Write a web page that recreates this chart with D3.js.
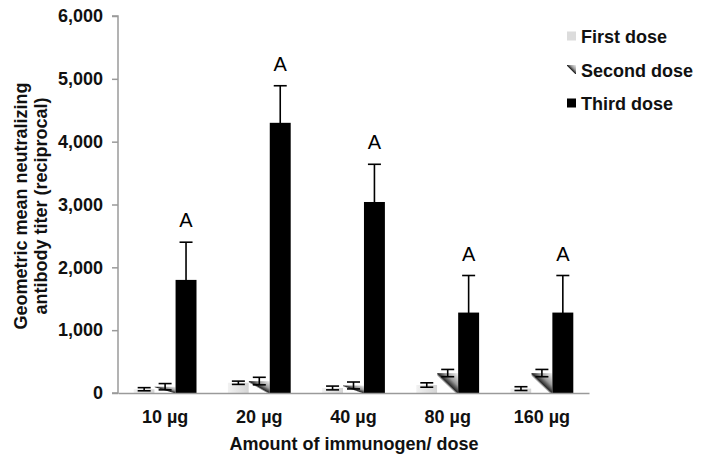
<!DOCTYPE html>
<html>
<head>
<meta charset="utf-8">
<script src="https://cdn.jsdelivr.net/npm/d3@7"></script>
<style>
  html, body { margin: 0; padding: 0; background: #fff; }
  svg { display: block; font-family: "Liberation Sans", Arial, Helvetica, sans-serif; }
</style>
</head>
<body>
<svg id="chart" width="701" height="463"></svg>
<script>
const categories = ["10 µg", "20 µg", "40 µg", "80 µg", "160 µg"];
const seriesNames = ["First dose", "Second dose", "Third dose"];
const firstDose = [60, 163, 80, 127, 70];
const firstErr = [25, 26, 30, 35, 30];
const secondDose = [100, 190, 120, 317, 317];
const secondErr = [50, 60, 55, 58, 58];
const thirdDose = [1800, 4300, 3040, 1280, 1280];
const thirdErr = [600, 590, 600, 590, 590];
const annotations = ["A", "A", "A", "A", "A"];
const yTicks = [0, 1000, 2000, 3000, 4000, 5000, 6000];

const svg = d3.select("#chart");
const defs = svg.append("defs");

const g1 = defs.append("linearGradient").attr("id", "gFirst")
  .attr("x1", 0).attr("y1", 0).attr("x2", 1).attr("y2", 0);
g1.append("stop").attr("offset", 0).attr("stop-color", "#f2f2f2");
g1.append("stop").attr("offset", 1).attr("stop-color", "#d4d4d4");

const g2 = defs.append("linearGradient").attr("id", "gSecond")
  .attr("x1", 0).attr("y1", 1).attr("x2", 1).attr("y2", 0);
g2.append("stop").attr("offset", 0).attr("stop-color", "#ffffff");
g2.append("stop").attr("offset", 0.42).attr("stop-color", "#ffffff");
g2.append("stop").attr("offset", 0.5).attr("stop-color", "#2a2a2a");
g2.append("stop").attr("offset", 0.68).attr("stop-color", "#9a9a9a");
g2.append("stop").attr("offset", 1).attr("stop-color", "#f4f4f4");

const fills = ["url(#gFirst)", "url(#gSecond)", "#000"];

const margin = { left: 118, right: 112, top: 16, bottom: 70 };
const x0 = d3.scaleBand().domain(categories).range([118, 589]).paddingInner(0).paddingOuter(0);
const y = d3.scaleLinear().domain([0, 6000]).range([393, 16]);

const bw = x0.bandwidth() / 4.5;
const x1 = d3.scaleBand().domain(seriesNames)
  .range([x0.bandwidth() * 0.75 / 4.5 * 1, x0.bandwidth() - x0.bandwidth() * 0.75 / 4.5]);

const values = [firstDose, secondDose, thirdDose];
const errs = [firstErr, secondErr, thirdErr];

const data = [];
categories.forEach((c, i) => {
  seriesNames.forEach((s, j) => {
    data.push({ cat: c, ser: s, j, v: values[j][i], e: errs[j][i], ann: j === 2 ? annotations[i] : null });
  });
});

// axes
const yAxis = d3.axisLeft(y).tickValues(yTicks).tickSize(6).tickPadding(9)
  .tickFormat(d3.format(","));
const ya = svg.append("g").attr("transform", "translate(118,0)").call(yAxis);
ya.select(".domain").attr("stroke", "#9a9a9a").attr("stroke-width", 1.5).attr("d", "M-6,16H0V393H-6");
ya.selectAll(".tick line").attr("stroke", "#9a9a9a").attr("stroke-width", 1.5);
ya.selectAll(".tick text").attr("fill", "#111").attr("font-size", 18).attr("font-weight", "bold")
  .attr("font-family", "'Liberation Sans', Arial, sans-serif");

const bars = svg.append("g");
bars.selectAll("rect").data(data).enter().append("rect")
  .attr("x", d => x0(d.cat) + x1(d.ser))
  .attr("width", x1.bandwidth())
  .attr("y", d => y(d.v))
  .attr("height", d => y(0) - y(d.v))
  .attr("fill", d => fills[d.j]);

const xAxis = d3.axisBottom(x0).tickSize(0).tickPadding(17);
const xa = svg.append("g").attr("transform", "translate(0,393)").call(xAxis);
xa.select(".domain").attr("stroke", "#9a9a9a").attr("stroke-width", 1.5);
xa.selectAll(".tick text").attr("fill", "#111").attr("font-size", 18).attr("font-weight", "bold")
  .attr("font-family", "'Liberation Sans', Arial, sans-serif");

// error bars
const eg = svg.append("g").attr("stroke", "#000").attr("stroke-width", 1.6);
data.forEach(d => {
  const cx = x0(d.cat) + x1(d.ser) + x1.bandwidth() / 2;
  const hw = 6.5;
  eg.append("line").attr("x1", cx).attr("x2", cx).attr("y1", y(d.v - d.e)).attr("y2", y(d.v + d.e));
  eg.append("line").attr("x1", cx - hw).attr("x2", cx + hw).attr("y1", y(d.v + d.e)).attr("y2", y(d.v + d.e));
  eg.append("line").attr("x1", cx - hw).attr("x2", cx + hw).attr("y1", y(d.v - d.e)).attr("y2", y(d.v - d.e));
  if (d.ann) {
    svg.append("text").attr("x", cx).attr("y", y(d.v + d.e) - 15)
      .attr("text-anchor", "middle").attr("font-size", 20).attr("fill", "#000").text(d.ann);
  }
});

// axis titles
svg.append("text").attr("x", 354).attr("y", 450).attr("text-anchor", "middle")
  .attr("font-size", 18).attr("font-weight", "bold").attr("fill", "#111")
  .text("Amount of immunogen/ dose");
const yt = svg.append("text").attr("transform", "translate(0,206) rotate(-90)")
  .attr("text-anchor", "middle").attr("font-size", 18).attr("font-weight", "bold").attr("fill", "#111");
yt.append("tspan").attr("x", 0).attr("y", 27).text("Geometric mean neutralizing");
yt.append("tspan").attr("x", 0).attr("y", 47).text("antibody titer (reciprocal)");

// legend
const legendY = [36, 69.5, 103];
const lg = svg.append("g");
seriesNames.forEach((s, j) => {
  lg.append("rect").attr("x", 567).attr("y", legendY[j] - 4.5).attr("width", 9).attr("height", 9)
    .attr("fill", j === 0 ? "#dcdcdc" : fills[j]);
  lg.append("text").attr("x", 581).attr("y", legendY[j] + 7).attr("font-size", 18)
    .attr("font-weight", "bold").attr("fill", "#111").text(s);
});
</script>
</body>
</html>
